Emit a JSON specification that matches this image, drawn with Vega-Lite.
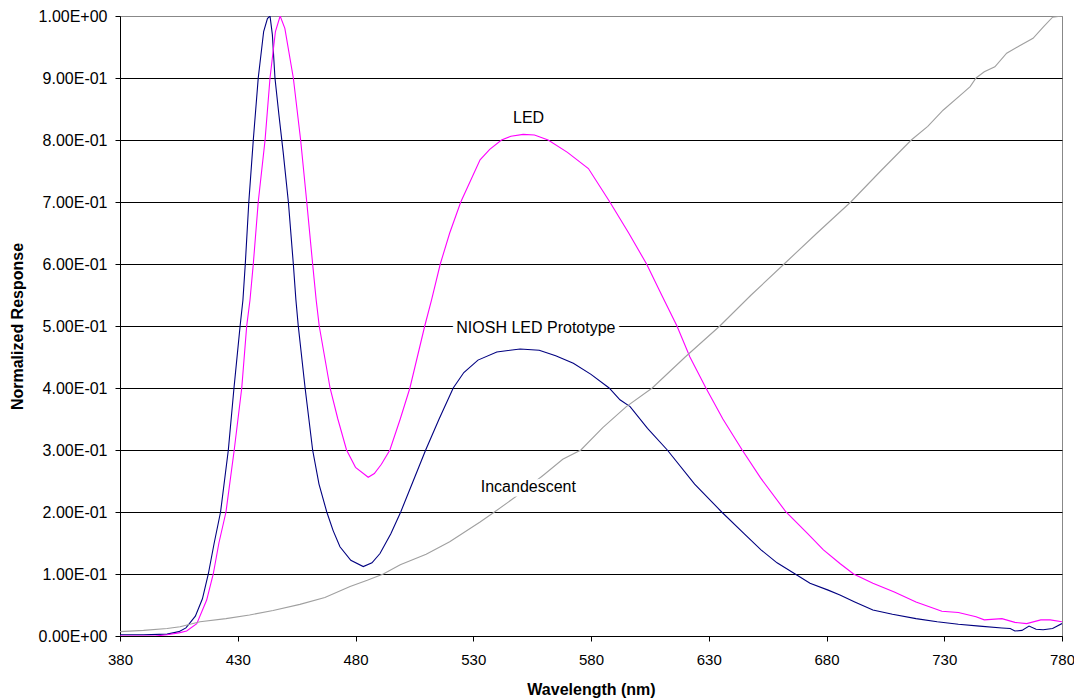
{
  "$schema": "https://vega.github.io/schema/vega-lite/v6.json",
  "width": 942,
  "height": 620,
  "autosize": {"type": "none"},
  "padding": {"left": 120, "top": 16, "right": 12, "bottom": 62},
  "background": "white",
  "config": {
    "view": {"stroke": "#888888", "strokeWidth": 1},
    "font": "Liberation Sans",
    "axis": {
      "labelFont": "Liberation Sans",
      "titleFont": "Liberation Sans",
      "labelColor": "#000000",
      "titleColor": "#000000",
      "domainColor": "#000000",
      "tickColor": "#000000",
      "tickSize": 5,
      "labelFontSize": 16,
      "titleFontSize": 16,
      "titleFontWeight": "bold",
      "labelFlush": false
    }
  },
  "datasets": {
    "spectra": [
      {"nm": 380, "value": 0.002, "series": "NIOSH LED Prototype"},
      {"nm": 390, "value": 0.002, "series": "NIOSH LED Prototype"},
      {"nm": 400, "value": 0.003, "series": "NIOSH LED Prototype"},
      {"nm": 405, "value": 0.007, "series": "NIOSH LED Prototype"},
      {"nm": 408, "value": 0.013, "series": "NIOSH LED Prototype"},
      {"nm": 412, "value": 0.032, "series": "NIOSH LED Prototype"},
      {"nm": 415, "value": 0.06, "series": "NIOSH LED Prototype"},
      {"nm": 417.5, "value": 0.1, "series": "NIOSH LED Prototype"},
      {"nm": 420, "value": 0.15, "series": "NIOSH LED Prototype"},
      {"nm": 422.7, "value": 0.2, "series": "NIOSH LED Prototype"},
      {"nm": 426, "value": 0.3, "series": "NIOSH LED Prototype"},
      {"nm": 428.4, "value": 0.4, "series": "NIOSH LED Prototype"},
      {"nm": 431, "value": 0.5, "series": "NIOSH LED Prototype"},
      {"nm": 432.2, "value": 0.542, "series": "NIOSH LED Prototype"},
      {"nm": 433.2, "value": 0.6, "series": "NIOSH LED Prototype"},
      {"nm": 434.7, "value": 0.7, "series": "NIOSH LED Prototype"},
      {"nm": 436.6, "value": 0.8, "series": "NIOSH LED Prototype"},
      {"nm": 438.7, "value": 0.9, "series": "NIOSH LED Prototype"},
      {"nm": 441, "value": 0.975, "series": "NIOSH LED Prototype"},
      {"nm": 442.6, "value": 0.996, "series": "NIOSH LED Prototype"},
      {"nm": 443.7, "value": 1.0, "series": "NIOSH LED Prototype"},
      {"nm": 444.7, "value": 0.97, "series": "NIOSH LED Prototype"},
      {"nm": 445.8, "value": 0.9, "series": "NIOSH LED Prototype"},
      {"nm": 447.5, "value": 0.84, "series": "NIOSH LED Prototype"},
      {"nm": 449.3, "value": 0.78, "series": "NIOSH LED Prototype"},
      {"nm": 451.5, "value": 0.7, "series": "NIOSH LED Prototype"},
      {"nm": 453.6, "value": 0.6, "series": "NIOSH LED Prototype"},
      {"nm": 454.7, "value": 0.542, "series": "NIOSH LED Prototype"},
      {"nm": 455.7, "value": 0.5, "series": "NIOSH LED Prototype"},
      {"nm": 458.6, "value": 0.4, "series": "NIOSH LED Prototype"},
      {"nm": 461.8, "value": 0.3, "series": "NIOSH LED Prototype"},
      {"nm": 464.5, "value": 0.245, "series": "NIOSH LED Prototype"},
      {"nm": 467.8, "value": 0.2, "series": "NIOSH LED Prototype"},
      {"nm": 470.5, "value": 0.17, "series": "NIOSH LED Prototype"},
      {"nm": 473.4, "value": 0.144, "series": "NIOSH LED Prototype"},
      {"nm": 478, "value": 0.122, "series": "NIOSH LED Prototype"},
      {"nm": 483.3, "value": 0.112, "series": "NIOSH LED Prototype"},
      {"nm": 487, "value": 0.118, "series": "NIOSH LED Prototype"},
      {"nm": 490.4, "value": 0.133, "series": "NIOSH LED Prototype"},
      {"nm": 495, "value": 0.165, "series": "NIOSH LED Prototype"},
      {"nm": 499.2, "value": 0.2, "series": "NIOSH LED Prototype"},
      {"nm": 504.5, "value": 0.25, "series": "NIOSH LED Prototype"},
      {"nm": 509.8, "value": 0.3, "series": "NIOSH LED Prototype"},
      {"nm": 515.5, "value": 0.35, "series": "NIOSH LED Prototype"},
      {"nm": 521.5, "value": 0.4, "series": "NIOSH LED Prototype"},
      {"nm": 526, "value": 0.425, "series": "NIOSH LED Prototype"},
      {"nm": 532, "value": 0.445, "series": "NIOSH LED Prototype"},
      {"nm": 540, "value": 0.458, "series": "NIOSH LED Prototype"},
      {"nm": 549.9, "value": 0.463, "series": "NIOSH LED Prototype"},
      {"nm": 558, "value": 0.461, "series": "NIOSH LED Prototype"},
      {"nm": 565, "value": 0.452, "series": "NIOSH LED Prototype"},
      {"nm": 572.5, "value": 0.44, "series": "NIOSH LED Prototype"},
      {"nm": 580, "value": 0.422, "series": "NIOSH LED Prototype"},
      {"nm": 587.7, "value": 0.4, "series": "NIOSH LED Prototype"},
      {"nm": 592.3, "value": 0.381, "series": "NIOSH LED Prototype"},
      {"nm": 596.6, "value": 0.37, "series": "NIOSH LED Prototype"},
      {"nm": 604, "value": 0.335, "series": "NIOSH LED Prototype"},
      {"nm": 612.4, "value": 0.3, "series": "NIOSH LED Prototype"},
      {"nm": 624, "value": 0.245, "series": "NIOSH LED Prototype"},
      {"nm": 635.5, "value": 0.2, "series": "NIOSH LED Prototype"},
      {"nm": 645, "value": 0.165, "series": "NIOSH LED Prototype"},
      {"nm": 652.2, "value": 0.139, "series": "NIOSH LED Prototype"},
      {"nm": 659, "value": 0.118, "series": "NIOSH LED Prototype"},
      {"nm": 666.7, "value": 0.1, "series": "NIOSH LED Prototype"},
      {"nm": 673, "value": 0.085, "series": "NIOSH LED Prototype"},
      {"nm": 680.7, "value": 0.074, "series": "NIOSH LED Prototype"},
      {"nm": 685.7, "value": 0.066, "series": "NIOSH LED Prototype"},
      {"nm": 692, "value": 0.055, "series": "NIOSH LED Prototype"},
      {"nm": 699.7, "value": 0.042, "series": "NIOSH LED Prototype"},
      {"nm": 708, "value": 0.035, "series": "NIOSH LED Prototype"},
      {"nm": 718, "value": 0.028, "series": "NIOSH LED Prototype"},
      {"nm": 727, "value": 0.023, "series": "NIOSH LED Prototype"},
      {"nm": 736, "value": 0.019, "series": "NIOSH LED Prototype"},
      {"nm": 745, "value": 0.016, "series": "NIOSH LED Prototype"},
      {"nm": 754.5, "value": 0.013, "series": "NIOSH LED Prototype"},
      {"nm": 758, "value": 0.012, "series": "NIOSH LED Prototype"},
      {"nm": 760, "value": 0.008, "series": "NIOSH LED Prototype"},
      {"nm": 763, "value": 0.009, "series": "NIOSH LED Prototype"},
      {"nm": 766, "value": 0.016, "series": "NIOSH LED Prototype"},
      {"nm": 769, "value": 0.011, "series": "NIOSH LED Prototype"},
      {"nm": 772, "value": 0.01, "series": "NIOSH LED Prototype"},
      {"nm": 776, "value": 0.012, "series": "NIOSH LED Prototype"},
      {"nm": 780, "value": 0.02, "series": "NIOSH LED Prototype"},

      {"nm": 380, "value": 0.0, "series": "LED"},
      {"nm": 395, "value": 0.0, "series": "LED"},
      {"nm": 400, "value": 0.002, "series": "LED"},
      {"nm": 405, "value": 0.005, "series": "LED"},
      {"nm": 408.3, "value": 0.008, "series": "LED"},
      {"nm": 412.6, "value": 0.02, "series": "LED"},
      {"nm": 416.8, "value": 0.058, "series": "LED"},
      {"nm": 419.6, "value": 0.1, "series": "LED"},
      {"nm": 422, "value": 0.15, "series": "LED"},
      {"nm": 425, "value": 0.2, "series": "LED"},
      {"nm": 428.5, "value": 0.3, "series": "LED"},
      {"nm": 431.7, "value": 0.4, "series": "LED"},
      {"nm": 433.8, "value": 0.5, "series": "LED"},
      {"nm": 435.2, "value": 0.542, "series": "LED"},
      {"nm": 436.6, "value": 0.6, "series": "LED"},
      {"nm": 438.7, "value": 0.7, "series": "LED"},
      {"nm": 441.6, "value": 0.8, "series": "LED"},
      {"nm": 443.7, "value": 0.9, "series": "LED"},
      {"nm": 446, "value": 0.975, "series": "LED"},
      {"nm": 448, "value": 1.0, "series": "LED"},
      {"nm": 450, "value": 0.98, "series": "LED"},
      {"nm": 453.6, "value": 0.9, "series": "LED"},
      {"nm": 456.7, "value": 0.8, "series": "LED"},
      {"nm": 459.3, "value": 0.7, "series": "LED"},
      {"nm": 461.8, "value": 0.6, "series": "LED"},
      {"nm": 463.3, "value": 0.542, "series": "LED"},
      {"nm": 464.6, "value": 0.5, "series": "LED"},
      {"nm": 469.2, "value": 0.4, "series": "LED"},
      {"nm": 472.5, "value": 0.35, "series": "LED"},
      {"nm": 476.2, "value": 0.3, "series": "LED"},
      {"nm": 480, "value": 0.272, "series": "LED"},
      {"nm": 485.4, "value": 0.256, "series": "LED"},
      {"nm": 488, "value": 0.262, "series": "LED"},
      {"nm": 491, "value": 0.277, "series": "LED"},
      {"nm": 494.6, "value": 0.3, "series": "LED"},
      {"nm": 499, "value": 0.35, "series": "LED"},
      {"nm": 503.1, "value": 0.4, "series": "LED"},
      {"nm": 509.4, "value": 0.5, "series": "LED"},
      {"nm": 512.3, "value": 0.542, "series": "LED"},
      {"nm": 516, "value": 0.6, "series": "LED"},
      {"nm": 520, "value": 0.65, "series": "LED"},
      {"nm": 524.7, "value": 0.7, "series": "LED"},
      {"nm": 532.9, "value": 0.768, "series": "LED"},
      {"nm": 537, "value": 0.785, "series": "LED"},
      {"nm": 542, "value": 0.8, "series": "LED"},
      {"nm": 546, "value": 0.806, "series": "LED"},
      {"nm": 551.2, "value": 0.809, "series": "LED"},
      {"nm": 556, "value": 0.808, "series": "LED"},
      {"nm": 561.8, "value": 0.8, "series": "LED"},
      {"nm": 570, "value": 0.78, "series": "LED"},
      {"nm": 578.9, "value": 0.754, "series": "LED"},
      {"nm": 588, "value": 0.7, "series": "LED"},
      {"nm": 596, "value": 0.65, "series": "LED"},
      {"nm": 603.6, "value": 0.6, "series": "LED"},
      {"nm": 610, "value": 0.55, "series": "LED"},
      {"nm": 616.5, "value": 0.5, "series": "LED"},
      {"nm": 622, "value": 0.45, "series": "LED"},
      {"nm": 628.8, "value": 0.4, "series": "LED"},
      {"nm": 636, "value": 0.35, "series": "LED"},
      {"nm": 644.2, "value": 0.3, "series": "LED"},
      {"nm": 652, "value": 0.255, "series": "LED"},
      {"nm": 662.8, "value": 0.2, "series": "LED"},
      {"nm": 672, "value": 0.165, "series": "LED"},
      {"nm": 678.7, "value": 0.139, "series": "LED"},
      {"nm": 685.7, "value": 0.117, "series": "LED"},
      {"nm": 691.5, "value": 0.1, "series": "LED"},
      {"nm": 699.7, "value": 0.085, "series": "LED"},
      {"nm": 708.8, "value": 0.071, "series": "LED"},
      {"nm": 718, "value": 0.055, "series": "LED"},
      {"nm": 729, "value": 0.04, "series": "LED"},
      {"nm": 736, "value": 0.038, "series": "LED"},
      {"nm": 743.5, "value": 0.031, "series": "LED"},
      {"nm": 747, "value": 0.026, "series": "LED"},
      {"nm": 754.5, "value": 0.028, "series": "LED"},
      {"nm": 760, "value": 0.022, "series": "LED"},
      {"nm": 765, "value": 0.02, "series": "LED"},
      {"nm": 771, "value": 0.026, "series": "LED"},
      {"nm": 775, "value": 0.026, "series": "LED"},
      {"nm": 780, "value": 0.023, "series": "LED"},

      {"nm": 380, "value": 0.007, "series": "Incandescent"},
      {"nm": 390, "value": 0.009, "series": "Incandescent"},
      {"nm": 400, "value": 0.012, "series": "Incandescent"},
      {"nm": 405.5, "value": 0.015, "series": "Incandescent"},
      {"nm": 414, "value": 0.023, "series": "Incandescent"},
      {"nm": 425, "value": 0.028, "series": "Incandescent"},
      {"nm": 435, "value": 0.034, "series": "Incandescent"},
      {"nm": 445, "value": 0.041, "series": "Incandescent"},
      {"nm": 456.4, "value": 0.051, "series": "Incandescent"},
      {"nm": 467, "value": 0.062, "series": "Incandescent"},
      {"nm": 477.7, "value": 0.08, "series": "Incandescent"},
      {"nm": 485, "value": 0.09, "series": "Incandescent"},
      {"nm": 491.8, "value": 0.1, "series": "Incandescent"},
      {"nm": 499, "value": 0.115, "series": "Incandescent"},
      {"nm": 510, "value": 0.132, "series": "Incandescent"},
      {"nm": 520, "value": 0.152, "series": "Incandescent"},
      {"nm": 532.9, "value": 0.184, "series": "Incandescent"},
      {"nm": 539, "value": 0.2, "series": "Incandescent"},
      {"nm": 550, "value": 0.23, "series": "Incandescent"},
      {"nm": 560, "value": 0.26, "series": "Incandescent"},
      {"nm": 568, "value": 0.285, "series": "Incandescent"},
      {"nm": 575.7, "value": 0.3, "series": "Incandescent"},
      {"nm": 585, "value": 0.336, "series": "Incandescent"},
      {"nm": 595, "value": 0.37, "series": "Incandescent"},
      {"nm": 606, "value": 0.4, "series": "Incandescent"},
      {"nm": 620, "value": 0.45, "series": "Incandescent"},
      {"nm": 634.7, "value": 0.5, "series": "Incandescent"},
      {"nm": 648, "value": 0.55, "series": "Incandescent"},
      {"nm": 662, "value": 0.6, "series": "Incandescent"},
      {"nm": 676, "value": 0.65, "series": "Incandescent"},
      {"nm": 690.3, "value": 0.7, "series": "Incandescent"},
      {"nm": 703, "value": 0.75, "series": "Incandescent"},
      {"nm": 716, "value": 0.8, "series": "Incandescent"},
      {"nm": 723, "value": 0.822, "series": "Incandescent"},
      {"nm": 729.5, "value": 0.848, "series": "Incandescent"},
      {"nm": 738, "value": 0.876, "series": "Incandescent"},
      {"nm": 741, "value": 0.886, "series": "Incandescent"},
      {"nm": 743.5, "value": 0.9, "series": "Incandescent"},
      {"nm": 747, "value": 0.91, "series": "Incandescent"},
      {"nm": 751.5, "value": 0.918, "series": "Incandescent"},
      {"nm": 756.5, "value": 0.94, "series": "Incandescent"},
      {"nm": 762, "value": 0.952, "series": "Incandescent"},
      {"nm": 767.7, "value": 0.964, "series": "Incandescent"},
      {"nm": 772, "value": 0.982, "series": "Incandescent"},
      {"nm": 776, "value": 0.998, "series": "Incandescent"},
      {"nm": 780, "value": 1.0, "series": "Incandescent"}
    ],
    "labels": [
      {"nm": 553.5, "value": 0.835, "label": "LED"},
      {"nm": 556.6, "value": 0.497, "label": "NIOSH LED Prototype"},
      {"nm": 553.4, "value": 0.241, "label": "Incandescent"}
    ]
  },
  "layer": [
    {
      "data": {"name": "spectra"},
      "mark": {"type": "line", "strokeWidth": 1.1, "clip": true},
      "encoding": {
        "x": {
          "field": "nm",
          "type": "quantitative",
          "scale": {"domain": [380, 780], "nice": false, "zero": false},
          "axis": {
            "title": "Wavelength (nm)",
            "values": [380, 430, 480, 530, 580, 630, 680, 730, 780],
            "grid": false,
            "labelFontSize": 15,
            "labelPadding": 11,
            "titlePadding": 14
          }
        },
        "y": {
          "field": "value",
          "type": "quantitative",
          "scale": {"domain": [0, 1], "nice": false},
          "axis": {
            "title": "Normalized Response",
            "values": [0, 0.1, 0.2, 0.3, 0.4, 0.5, 0.6, 0.7, 0.8, 0.9, 1],
            "labelExpr": "datum.value == 0 ? '0.00E+00' : (datum.value >= 0.999 ? '1.00E+00' : format(datum.value * 10, '.2f') + 'E-01')",
            "grid": true,
            "gridColor": {"condition": {"test": "datum.value >= 0.999", "value": "#888888"}, "value": "#000000"},
            "gridOpacity": 1,
            "gridWidth": 1,
            "labelPadding": 8,
            "titlePadding": 13
          }
        },
        "color": {
          "field": "series",
          "type": "nominal",
          "scale": {
            "domain": ["NIOSH LED Prototype", "LED", "Incandescent"],
            "range": ["#000080", "#FF00FF", "#A0A0A0"]
          },
          "legend": null
        },
        "detail": {"field": "series"}
      }
    },
    {
      "data": {"name": "labels"},
      "mark": {
        "type": "text",
        "font": "Liberation Sans",
        "fontSize": 16,
        "baseline": "middle",
        "align": "center",
        "stroke": "white",
        "strokeWidth": 9,
        "fill": "white"
      },
      "encoding": {
        "x": {"field": "nm", "type": "quantitative"},
        "y": {"field": "value", "type": "quantitative"},
        "text": {"field": "label"}
      }
    },
    {
      "data": {"name": "labels"},
      "mark": {
        "type": "text",
        "font": "Liberation Sans",
        "fontSize": 16,
        "baseline": "middle",
        "align": "center",
        "color": "#000000"
      },
      "encoding": {
        "x": {"field": "nm", "type": "quantitative"},
        "y": {"field": "value", "type": "quantitative"},
        "text": {"field": "label"}
      }
    }
  ]
}
